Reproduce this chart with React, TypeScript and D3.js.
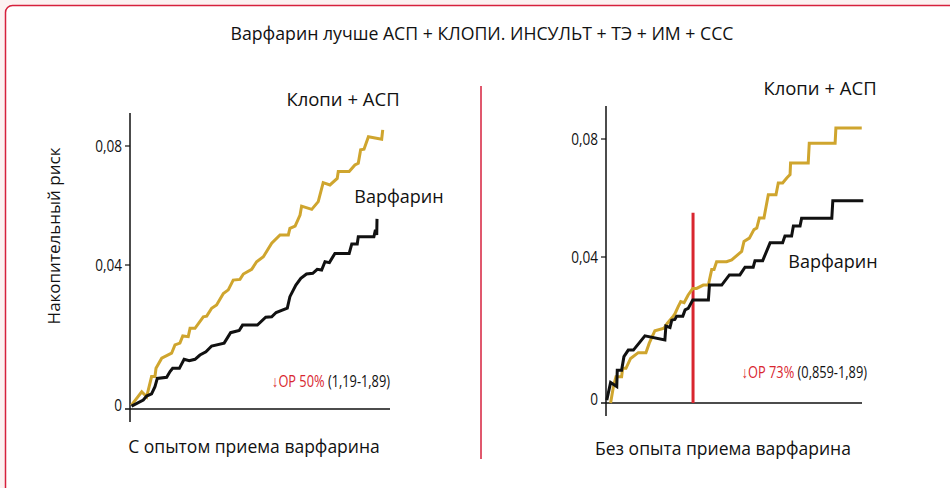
import * as d3 from "d3";

// time axis is unlabelled in the source, so t is in arbitrary units 0..100
type Pt = [number, number];

const yTicks = [0, 0.04, 0.08];
const yTickLabels = ["0", "0,04", "0,08"];

// left panel: experienced warfarin users
const leftClopi: Pt[] = [
  [0.5, 0.001], [4.5, 0.0048], [6.4, 0.0034], [8.3, 0.009], [9.6, 0.009], [10.0, 0.0113],
  [12.2, 0.0141], [16.0, 0.0155], [17.3, 0.0178], [19.2, 0.0183], [20.3, 0.0203], [22.4, 0.0201],
  [23.1, 0.0224], [25.0, 0.0224], [28.2, 0.0256], [29.5, 0.0258], [31.4, 0.028], [33.3, 0.0289],
  [35.9, 0.0321], [37.8, 0.0331], [39.7, 0.0358], [42.3, 0.036], [43.6, 0.0375], [46.8, 0.0388],
  [48.7, 0.0411], [51.3, 0.0428], [54.5, 0.0473], [57.7, 0.0501], [60.9, 0.0501], [61.5, 0.0523],
  [63.5, 0.0531], [65.4, 0.0568], [66.0, 0.0598], [69.9, 0.0587], [72.4, 0.0613], [74.3, 0.0677],
  [76.9, 0.0669], [79.7, 0.0691], [80.1, 0.0714], [84.3, 0.0714], [86.5, 0.0736], [87.8, 0.0742],
  [88.7, 0.0787], [90.0, 0.0789], [91.7, 0.0831], [96.8, 0.0823], [97.2, 0.0854],
];
const leftWarf: Pt[] = [
  [0.6, 0.0008], [5.1, 0.0025], [6.4, 0.0036], [8.3, 0.0042], [9.6, 0.0062], [10.5, 0.0085],
  [14.1, 0.0088], [15.4, 0.0104], [16.4, 0.0113], [19.0, 0.0113], [20.8, 0.0138], [22.8, 0.0134],
  [25.0, 0.0138], [26.9, 0.015], [29.2, 0.0159], [31.4, 0.0175], [36.2, 0.0183], [38.7, 0.0212],
  [42.0, 0.0218], [43.3, 0.0233], [49.0, 0.0233], [52.2, 0.0255], [54.5, 0.0256], [56.2, 0.0268],
  [60.5, 0.028], [61.5, 0.0312], [63.8, 0.0344], [65.7, 0.0363], [67.9, 0.0375], [70.3, 0.0377],
  [72.0, 0.0388], [73.7, 0.0386], [75.0, 0.0411], [76.7, 0.0408], [78.8, 0.0439], [84.3, 0.0439],
  [85.3, 0.0471], [87.4, 0.0471], [87.8, 0.0495], [93.8, 0.0495], [94.4, 0.0518], [94.9, 0.0501],
  [95.0, 0.0555],
];

// right panel: warfarin-naive
const rightClopi: Pt[] = [
  [1.8, 0], [2.9, 0.0045], [3.9, 0.0072], [6.1, 0.0072], [6.5, 0.0095], [7.8, 0.0095],
  [9.6, 0.0122], [12.6, 0.0138], [15.6, 0.0138], [16.9, 0.0164], [19.1, 0.0198], [22.7, 0.0205],
  [23.9, 0.0218], [26.3, 0.0238], [26.9, 0.0244], [28.2, 0.0264], [29.2, 0.0278], [30.5, 0.0275],
  [32.1, 0.0296], [33.9, 0.0314], [35.4, 0.0314], [38.0, 0.0323], [40.0, 0.0323], [40.4, 0.0337],
  [41.3, 0.0366], [42.2, 0.0366], [43.2, 0.0387], [47.1, 0.0387], [49.1, 0.0392], [53.0, 0.0419],
  [53.9, 0.0453], [56.0, 0.0464], [57.8, 0.0493], [58.9, 0.0498], [59.9, 0.0532], [61.7, 0.0532],
  [63.4, 0.0611], [66.4, 0.0611], [67.3, 0.0651], [69.0, 0.0651], [70.6, 0.0668], [71.9, 0.0679],
  [72.1, 0.0719], [79.0, 0.0719], [79.4, 0.0786], [89.5, 0.0786], [89.8, 0.0837], [99.9, 0.0837],
];
const rightWarf: Pt[] = [
  [0.3, 0.0008], [1.8, 0.0056], [4.2, 0.0045], [4.4, 0.009], [6.1, 0.009], [7.0, 0.0127],
  [8.7, 0.0145], [10.7, 0.0145], [15.2, 0.0184], [23.0, 0.0173], [23.4, 0.0211], [25.0, 0.0207],
  [25.7, 0.0227], [26.9, 0.0229], [27.6, 0.0238], [30.0, 0.0238], [30.9, 0.0255], [32.1, 0.0259],
  [33.9, 0.0282], [40.0, 0.0282], [40.4, 0.0323], [45.2, 0.0323], [48.2, 0.0351], [52.3, 0.0351],
  [54.3, 0.0372], [57.5, 0.0372], [58.2, 0.039], [61.2, 0.039], [64.1, 0.0448], [69.0, 0.0448],
  [69.9, 0.0471], [72.5, 0.0471], [73.2, 0.0505], [75.8, 0.0505], [76.4, 0.0531], [88.2, 0.0531],
  [88.6, 0.0591], [100.5, 0.0591],
];
const rightMarker = 34;

const GOLD = "#cfa52e";
const RED = "#d9262f";
const FONT = "'Open Sans', sans-serif";

// narrow text: the source uses a condensed face, squeeze Open Sans horizontally
const Narrow = ({ x, y, anchor, size, children }: { x: number; y: number; anchor: "start" | "end" | "middle"; size: number; children: React.ReactNode }) => (
  <g transform={`translate(${x},${y}) scale(0.8,1)`}>
    <text x={0} y={0} textAnchor={anchor} fontFamily={FONT} fontSize={size} fill="#111">{children}</text>
  </g>
);

type PanelProps = {
  x0: number; x1: number; yTop: number;
  yRange: [number, number, number];
  clopi: Pt[]; warf: Pt[];
  marker?: number;
};

const Panel = ({ x0, x1, yTop, yRange, clopi, warf, marker }: PanelProps) => {
  const x = d3.scaleLinear().domain([0, 100]).range([x0, x1]);
  // the original axis is not evenly spaced, so use a piecewise scale
  const y = d3.scaleLinear().domain(yTicks).range(yRange);
  const line = d3.line<Pt>().x(d => x(d[0])).y(d => y(d[1]));
  const base = y(0);
  return (
    <g>
      <line x1={x0} x2={x0} y1={yTop} y2={base + 13} stroke="#111" strokeWidth={1.5} />
      <line x1={x0 - 5} x2={x1} y1={base} y2={base} stroke="#111" strokeWidth={1.5} />
      {yTicks.map((t, i) => (
        <g key={t}>
          {i > 0 && <line x1={x0 - 5} x2={x0} y1={y(t)} y2={y(t)} stroke="#111" strokeWidth={1.2} />}
          <Narrow x={x0 - 8} y={y(t) + 6 - (i === 0 ? 4 : 0)} anchor="end" size={17}>
            {yTickLabels[i]}
          </Narrow>
        </g>
      ))}
      {marker !== undefined && (
        <line x1={x(marker)} x2={x(marker)} y1={y(0.055)} y2={base} stroke={RED} strokeWidth={3} />
      )}
      <path d={line(clopi) ?? ""} fill="none" stroke={GOLD} strokeWidth={3} strokeLinejoin="miter" />
      <path d={line(warf) ?? ""} fill="none" stroke="#111" strokeWidth={3} strokeLinejoin="miter" />
    </g>
  );
};

export default function App() {
  return (
    <svg width={950} height={488} style={{ position: "absolute", left: 0, top: 0 }}>
      <rect x={0} y={0} width={950} height={488} fill="#fcf1f1" />
      <rect x={5.5} y={5.5} width={1000} height={600} rx={7} fill="#fff" stroke="#d6203c" strokeWidth={1.5} />
      <text x={482} y={40} textAnchor="middle" fontFamily={FONT} fontSize={17.7} fill="#111">
        Варфарин лучше АСП + КЛОПИ. ИНСУЛЬТ + ТЭ + ИМ + ССС
      </text>
      <line x1={481} x2={481} y1={86} y2={459} stroke="#d6203c" strokeWidth={1.5} />

      <text transform="translate(60,236) rotate(-90)" textAnchor="middle" fontFamily={FONT} fontSize={17} fill="#111">
        Накопительный риск
      </text>

      <Panel x0={130} x1={390} yTop={113} yRange={[409, 265, 146]} clopi={leftClopi} warf={leftWarf} />
      <Panel x0={606} x1={862} yTop={106} yRange={[403, 257, 139]} clopi={rightClopi} warf={rightWarf} marker={rightMarker} />

      <text x={343} y={106} textAnchor="middle" fontFamily={FONT} fontSize={18.5} fill="#111">Клопи + АСП</text>
      <text x={820} y={95} textAnchor="middle" fontFamily={FONT} fontSize={18.5} fill="#111">Клопи + АСП</text>
      <text x={399} y={203} textAnchor="middle" fontFamily={FONT} fontSize={18} fill="#111">Варфарин</text>
      <text x={833} y={268} textAnchor="middle" fontFamily={FONT} fontSize={18} fill="#111">Варфарин</text>

      <g transform="translate(390,387) scale(0.8,1)">
        <text x={0} y={0} textAnchor="end" fontFamily={FONT} fontSize={16}>
          <tspan fill={RED}>↓ОР 50%</tspan><tspan fill="#111"> (1,19-1,89)</tspan>
        </text>
      </g>
      <g transform="translate(867,378) scale(0.8,1)">
        <text x={0} y={0} textAnchor="end" fontFamily={FONT} fontSize={16}>
          <tspan fill={RED}>↓ОР 73%</tspan><tspan fill="#111"> (0,859-1,89)</tspan>
        </text>
      </g>

      <text x={254} y={453} textAnchor="middle" fontFamily={FONT} fontSize={17.5} fill="#111">С опытом приема варфарина</text>
      <text x={723} y={455} textAnchor="middle" fontFamily={FONT} fontSize={17.5} fill="#111">Без опыта приема варфарина</text>
    </svg>
  );
}
